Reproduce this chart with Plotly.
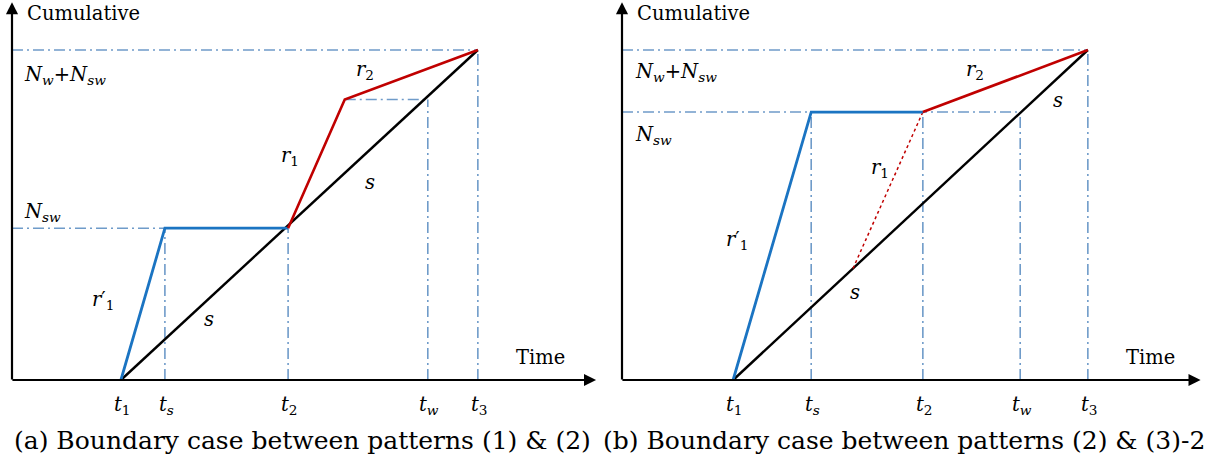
import plotly.graph_objects as go

# ---------------- data (abstract units) ----------------
TICK_LABELS = ["<i>t</i><sub>1</sub>", "<i>t<sub>s</sub></i>", "<i>t</i><sub>2</sub>",
               "<i>t<sub>w</sub></i>", "<i>t</i><sub>3</sub>"]

# panel (a): t1, ts, t2, tw, t3  and levels Nsw, r1-end level, Nw+Nsw
A_T = [1.98, 2.78, 5.02, 7.56, 8.47]
A_N = [4.6, 8.5, 10.0]
A_KINK_X = 6.05          # time where r1 switches to r2

# panel (b): t1, ts, t2, tw, t3  and levels Nsw, Nw+Nsw
B_T = [2.02, 3.44, 5.47, 7.24, 8.47]
B_N = [8.12, 10.0]
B_DOT_START = [4.2, 3.38]  # start of dotted r1 on the s line

CAPTIONS = ["(a) Boundary case between patterns (1) &amp; (2)",
            "(b) Boundary case between patterns (2) &amp; (3)-2"]

# ---------------- styles ----------------
W, H = 1208, 472
SX, SY = 55.0, 33.0
BLUE = "#1b74c2"
RED = "#c00000"
DASH = "#6f9bc9"
DASHPAT = "11px,4px,2px,4px"
MATH = dict(family="DejaVu Serif", size=19.5, color="black")
TXT = dict(family="DejaVu Serif", size=19.5, color="black")
CAP = dict(family="DejaVu Serif", size=25, color="black")

R1 = "<i>r</i><sub>1</sub>"
R2 = "<i>r</i><sub>2</sub>"
R1P = "<i>r</i>′<sub>1</sub>"
S = "<i>s</i>"
NTOT = "<i>N<sub>w</sub></i>+<i>N<sub>sw</sub></i>"
NSW = "<i>N<sub>sw</sub></i>"

fig = go.Figure()


def add_line(xs, ys, color, width, dash, xa, ya):
    fig.add_trace(go.Scatter(x=xs, y=ys, mode="lines", xaxis=xa, yaxis=ya,
                             line=dict(color=color, width=width, dash=dash),
                             hoverinfo="skip", showlegend=False))


def seg_list(segs):
    xs, ys = [], []
    for (x0, y0, x1, y1) in segs:
        xs += [x0, x1, None]
        ys += [y0, y1, None]
    return xs, ys


def label(text, x, y, xref, yref, font, xanchor="center"):
    fig.add_annotation(text=text, x=x, y=y, xref=xref, yref=yref, showarrow=False,
                       font=font, xanchor=xanchor, yanchor="middle")


def arrow(x, y, ax, ay, xref, yref):
    fig.add_annotation(x=x, y=y, ax=ax, ay=ay, xref=xref, yref=yref, axref=xref, ayref=yref,
                       text="", showarrow=True, arrowhead=2, arrowsize=1.1,
                       arrowwidth=2.2, arrowcolor="black", standoff=0, startstandoff=0)


# ---------------- panel (a) ----------------
t1, ts, t2, tw, t3 = A_T
nsw, nmid, ntot = A_N
xs, ys = seg_list([(0, ntot, t3, ntot), (0, nsw, t2, nsw), (A_KINK_X, nmid, tw, nmid),
                   (ts, 0, ts, nsw), (t2, 0, t2, nsw), (tw, 0, tw, nmid), (t3, 0, t3, ntot)])
add_line(xs, ys, DASH, 1.6, DASHPAT, "x", "y")
add_line([t1, t3], [0, ntot], "black", 2.4, "solid", "x", "y")
add_line([t1, ts, t2], [0, nsw, nsw], BLUE, 2.8, "solid", "x", "y")
add_line([t2, A_KINK_X, t3], [nsw, nmid, ntot], RED, 2.6, "solid", "x", "y")

arrow(10.62, 0, -0.02, 0, "x", "y")
arrow(0, 11.45, 0, -0.03, "x", "y")
label("Cumulative", 0.24, 11.1, "x", "y", TXT, "left")
label("Time", 9.6, 0.67, "x", "y", TXT)
label(NTOT, 0.18, 9.24, "x", "y", MATH, "left")
label(NSW, 0.18, 5.09, "x", "y", MATH, "left")
label(R2, 6.42, 9.39, "x", "y", MATH)
label(R1, 5.05, 6.76, "x", "y", MATH)
label(S, 6.51, 5.97, "x", "y", MATH)
label(R1P, 1.65, 2.42, "x", "y", MATH)
label(S, 3.58, 1.82, "x", "y", MATH)
for lab, tx in zip(TICK_LABELS, A_T):
    label(lab, tx + 0.03, -0.76, "x", "y", MATH)

# ---------------- panel (b) ----------------
t1, ts, t2, tw, t3 = B_T
nsw, ntot = B_N
xs, ys = seg_list([(0, ntot, t3, ntot), (0, nsw, tw, nsw),
                   (ts, 0, ts, nsw), (t2, 0, t2, nsw), (tw, 0, tw, nsw), (t3, 0, t3, ntot)])
add_line(xs, ys, DASH, 1.6, DASHPAT, "x2", "y2")
add_line([t1, t3], [0, ntot], "black", 2.4, "solid", "x2", "y2")
add_line([B_DOT_START[0], t2], [B_DOT_START[1], nsw], RED, 1.5, "dot", "x2", "y2")
add_line([t1, ts, t2], [0, nsw, nsw], BLUE, 2.8, "solid", "x2", "y2")
add_line([t2, t3], [nsw, ntot], RED, 2.6, "solid", "x2", "y2")

arrow(10.52, 0, -0.02, 0, "x2", "y2")
arrow(0, 11.45, 0, -0.03, "x2", "y2")
label("Cumulative", 0.24, 11.1, "x2", "y2", TXT, "left")
label("Time", 9.6, 0.67, "x2", "y2", TXT)
label(NTOT, 0.2, 9.33, "x2", "y2", MATH, "left")
label(NSW, 0.2, 7.42, "x2", "y2", MATH, "left")
label(R2, 6.42, 9.39, "x2", "y2", MATH)
label(S, 7.93, 8.48, "x2", "y2", MATH)
label(R1, 4.69, 6.42, "x2", "y2", MATH)
label(R1P, 2.09, 4.24, "x2", "y2", MATH)
label(S, 4.24, 2.64, "x2", "y2", MATH)
for lab, tx in zip(TICK_LABELS, B_T):
    label(lab, tx + 0.03, -0.76, "x2", "y2", MATH)

# ---------------- captions ----------------
fig.add_annotation(text=CAPTIONS[0], x=302 / W, y=1 - 440 / H,
                   xref="paper", yref="paper", showarrow=False, font=CAP,
                   xanchor="center", yanchor="middle")
fig.add_annotation(text=CAPTIONS[1], x=904 / W, y=1 - 440 / H,
                   xref="paper", yref="paper", showarrow=False, font=CAP,
                   xanchor="center", yanchor="middle")

# ---------------- axes: map data origin to the pictured pixel origin ----------------
MID = 604


def xr(px0, px1, ox):
    return [(px0 - ox) / SX, (px1 - ox) / SX]


OY = 380.0
yr = [(OY - H) / SY, OY / SY]
ax_common = dict(visible=False, showgrid=False, zeroline=False, fixedrange=True)
fig.update_layout(
    width=W, height=H, autosize=False,
    margin=dict(l=0, r=0, t=0, b=0),
    paper_bgcolor="white", plot_bgcolor="white",
    showlegend=False,
    xaxis=dict(domain=[0, MID / W], range=xr(0, MID, 12), **ax_common),
    yaxis=dict(domain=[0, 1], range=yr, **ax_common),
    xaxis2=dict(domain=[MID / W, 1], range=xr(MID, W, 622), anchor="y2", **ax_common),
    yaxis2=dict(domain=[0, 1], range=yr, anchor="x2", **ax_common),
)

fig.write_html("out.html", config={"displayModeBar": False},
               post_script="document.body.style.margin='0px';")
